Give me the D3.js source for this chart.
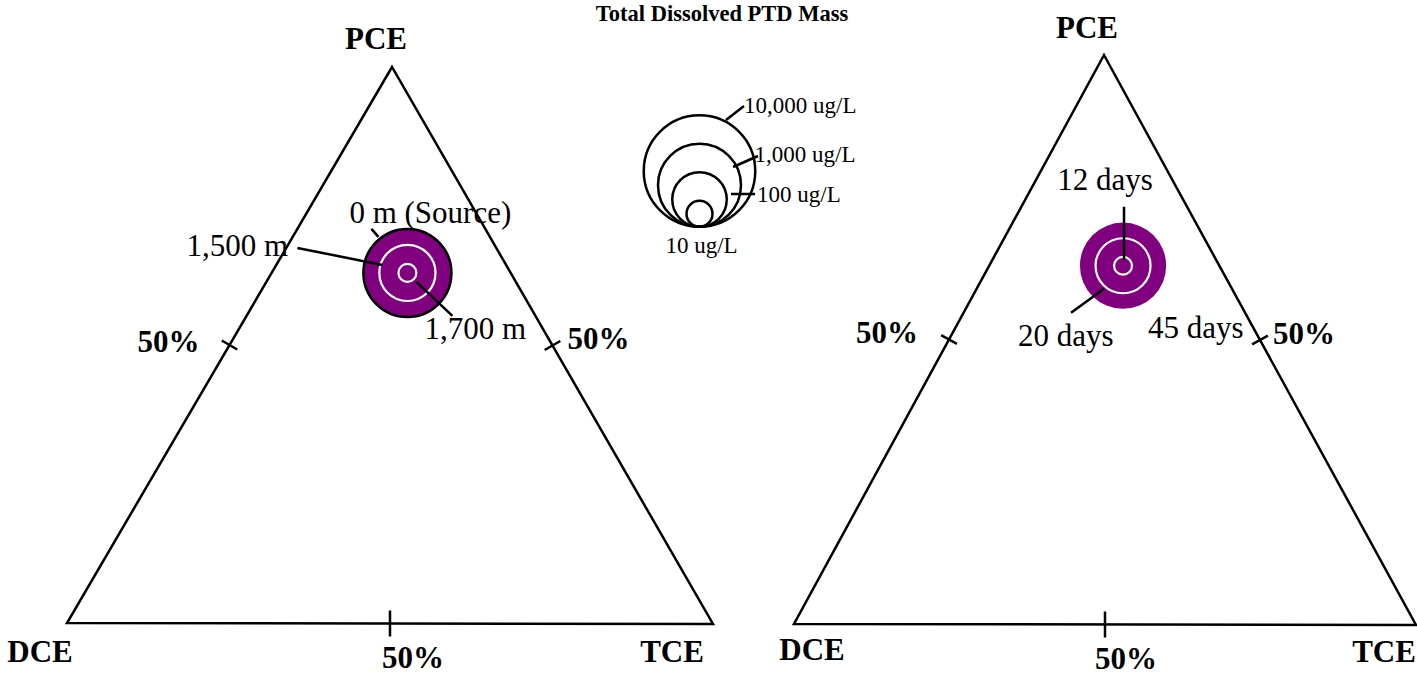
<!DOCTYPE html>
<html>
<head>
<meta charset="utf-8">
<script src="https://cdn.jsdelivr.net/npm/d3@7"></script>
<style>
  html, body { margin: 0; padding: 0; background: #fff; }
  svg { display: block; }
  text { font-family: "Liberation Serif", "Times New Roman", serif; fill: #000; }
</style>
</head>
<body>
<svg id="chart" width="1417" height="674"></svg>
<script>
// ---------- data ----------
const chartTitle = "Total Dissolved PTD Mass";
const vertexNames = ["PCE", "DCE", "TCE"];
const tickLabel = "50%";
const tickFraction = 0.5;

// left panel: distance from source
const leftLabels = ["0 m (Source)", "1,500 m", "1,700 m"];
const leftConc = [1500, 110, 5];          // ug/L
const leftPCE = [0.63, 0.63, 0.63];
const leftTCE = [0.21, 0.21, 0.21];
const leftDCE = [0.16, 0.16, 0.16];

// right panel: time
const rightLabels = ["45 days", "20 days", "12 days"];
const rightConc = [1300, 100, 5];         // ug/L
const rightPCE = [0.63, 0.63, 0.63];
const rightTCE = [0.215, 0.215, 0.215];
const rightDCE = [0.155, 0.155, 0.155];

// legend
const legendConc = [10000, 1000, 100, 10];
const legendLabels = ["10,000 ug/L", "1,000 ug/L", "100 ug/L", "10 ug/L"];

// ---------- layout ----------
const svg = d3.select("#chart");
const PURPLE = "#800080";
const rScale = d3.scaleLinear().domain([0, 4]).range([0, 57]);
const radius = c => rScale(Math.log10(c));

const panels = [
  {
    A: [392, 67], B: [67, 623], C: [713, 624],
    labelOff: { A: [-16, -18], B: [-27, 39], C: [-41, 38] },
    tickOff: { AB: [-61, 7], AC: [46, 3], BC: [23, 44] },
    labels: leftLabels, conc: leftConc, pce: leftPCE, tce: leftTCE, dce: leftDCE,
    outerStroke: true,
    annot: [
      { tx: -58, ty: -50, anchor: "start", line: [[-36, -44], [-29, -36]] },
      { tx: -221, ty: -17, anchor: "start", line: [[-110, -25], [-25, -8]] },
      { tx: 17, ty: 66, anchor: "start", line: [[9, 9], [45, 43]] }
    ]
  },
  {
    A: [1104, 55], B: [794, 624], C: [1416, 625],
    labelOff: { A: [-17, -17], B: [18, 36], C: [-32, 37] },
    tickOff: { AB: [-62, 3], AC: [44, 4], BC: [21, 44] },
    labels: rightLabels, conc: rightConc, pce: rightPCE, tce: rightTCE, dce: rightDCE,
    outerStroke: false,
    annot: [
      { tx: 25, ty: 72, anchor: "start", line: null },
      { tx: -105, ty: 80, anchor: "start", line: [[-52, 47], [-19, 23]] },
      { tx: -18, ty: -76, anchor: "middle", line: [[1, -59], [1, -6]] }
    ]
  }
];

function ternary(p, pce, tce, dce) {
  const s = pce + tce + dce;
  return [
    (pce * p.A[0] + dce * p.B[0] + tce * p.C[0]) / s,
    (pce * p.A[1] + dce * p.B[1] + tce * p.C[1]) / s
  ];
}

panels.forEach(p => {
  const g = svg.append("g");
  // triangle
  g.append("path")
    .attr("d", d3.line()([p.A, p.B, p.C]) + "Z")
    .attr("fill", "none").attr("stroke", "#000").attr("stroke-width", 2.5)
    .attr("stroke-linejoin", "miter");

  // 50% ticks at the side midpoints
  const sides = [["AB", p.A, p.B, 9], ["AC", p.A, p.C, 9], ["BC", p.B, p.C, 13]];
  sides.forEach(([key, P, Q, half]) => {
    const mx = P[0] + (Q[0] - P[0]) * tickFraction;
    const my = P[1] + (Q[1] - P[1]) * tickFraction;
    const dx = Q[0] - P[0], dy = Q[1] - P[1];
    const len = Math.hypot(dx, dy);
    const nx = -dy / len, ny = dx / len;
    g.append("line")
      .attr("x1", mx - nx * half).attr("y1", my - ny * half)
      .attr("x2", mx + nx * half).attr("y2", my + ny * half)
      .attr("stroke", "#000").attr("stroke-width", 2.5);
    g.append("text")
      .attr("x", mx + p.tickOff[key][0]).attr("y", my + p.tickOff[key][1])
      .attr("text-anchor", "middle").attr("font-size", 31).attr("font-weight", "bold")
      .text(tickLabel);
  });

  // vertex labels
  [["A", 0], ["B", 1], ["C", 2]].forEach(([k, i]) => {
    g.append("text")
      .attr("x", p[k][0] + p.labelOff[k][0]).attr("y", p[k][1] + p.labelOff[k][1])
      .attr("text-anchor", "middle").attr("font-size", 31).attr("font-weight", "bold")
      .text(vertexNames[i]);
  });

  // bubbles (outer first)
  const pts = p.conc.map((c, i) => ({
    c, label: p.labels[i], pos: ternary(p, p.pce[i], p.tce[i], p.dce[i]), i
  }));
  pts.forEach(d => {
    const outer = d.i === 0;
    g.append("circle")
      .attr("cx", d.pos[0]).attr("cy", d.pos[1])
      .attr("r", radius(d.c) - (outer ? 1.25 : 1))
      .attr("fill", outer ? PURPLE : "none")
      .attr("stroke", outer ? (p.outerStroke ? "#000" : "none") : "#fff")
      .attr("stroke-width", outer ? 2.5 : 2.2);
  });
  // annotations
  pts.forEach(d => {
    const a = p.annot[d.i];
    if (a.line) {
      g.append("line")
        .attr("x1", d.pos[0] + a.line[0][0]).attr("y1", d.pos[1] + a.line[0][1])
        .attr("x2", d.pos[0] + a.line[1][0]).attr("y2", d.pos[1] + a.line[1][1])
        .attr("stroke", "#000").attr("stroke-width", 2.5);
    }
    g.append("text")
      .attr("x", d.pos[0] + a.tx).attr("y", d.pos[1] + a.ty)
      .attr("text-anchor", a.anchor).attr("font-size", 31)
      .text(d.label);
  });
});

// ---------- title ----------
svg.append("text")
  .attr("x", 722).attr("y", 21)
  .attr("text-anchor", "middle").attr("font-size", 22.5).attr("font-weight", "bold")
  .text(chartTitle);

// ---------- legend ----------
const lg = svg.append("g").attr("transform", "translate(699.5,228)");
const legendLayout = [
  { start: [26.5, -108], end: [44.5, -122], tx: 44.5, ty: -115, anchor: "start" },
  { start: [33.5, -61], end: [58.5, -72], tx: 55, ty: -66, anchor: "start" },
  { start: [31.5, -34], end: [55.5, -34], tx: 57.5, ty: -26, anchor: "start" },
  { start: null, end: null, tx: 2, ty: 25, anchor: "middle" }
];
legendConc.forEach((c, i) => {
  const r = radius(c);
  lg.append("circle")
    .attr("cx", 0).attr("cy", -r).attr("r", r - 1.25)
    .attr("fill", "none").attr("stroke", "#000").attr("stroke-width", 2.5);
});
legendConc.forEach((c, i) => {
  const L = legendLayout[i];
  if (L.start) {
    lg.append("line")
      .attr("x1", L.start[0]).attr("y1", L.start[1])
      .attr("x2", L.end[0]).attr("y2", L.end[1])
      .attr("stroke", "#000").attr("stroke-width", 2.5);
  }
  lg.append("text")
    .attr("x", L.tx).attr("y", L.ty)
    .attr("text-anchor", L.anchor).attr("font-size", 23)
    .text(legendLabels[i]);
});
</script>
</body>
</html>
